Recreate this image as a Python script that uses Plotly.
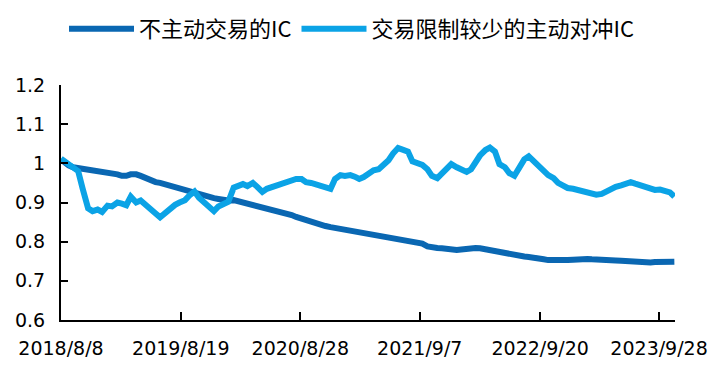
import pandas as pd
import plotly.graph_objects as go

# x: sampling dates (first trading day, then semi-monthly)
dates = ["2018-08-08"] + [d.strftime("%Y-%m-%d") for d in pd.date_range("2018-08-15", "2023-11-15", freq="SMS")]

series_names = ["不主动交易的IC", "交易限制较少的主动对冲IC"]

ic_passive = [
    1.010, 1.005, 0.995, 0.990, 0.988, 0.986, 0.985, 0.985, 0.983, 0.980,
    0.978, 0.975, 0.972, 0.968, 0.968, 0.972, 0.972, 0.968, 0.962, 0.957,
    0.952, 0.950, 0.946, 0.943, 0.940, 0.936, 0.932, 0.928, 0.926, 0.922,
    0.916, 0.912, 0.911, 0.909, 0.906, 0.905, 0.906, 0.903, 0.900, 0.897,
    0.895, 0.893, 0.890, 0.887, 0.884, 0.880, 0.876, 0.872, 0.868, 0.863,
    0.858, 0.855, 0.851, 0.848, 0.844, 0.840, 0.837, 0.835, 0.833, 0.831,
    0.829, 0.827, 0.825, 0.824, 0.821, 0.818, 0.815, 0.813, 0.812, 0.810,
    0.807, 0.805, 0.803, 0.801, 0.799, 0.795, 0.788, 0.785, 0.784, 0.783,
    0.781, 0.779, 0.779, 0.780, 0.782, 0.783, 0.784, 0.783, 0.780, 0.778,
    0.776, 0.773, 0.770, 0.767, 0.764, 0.763, 0.762, 0.761, 0.760, 0.758,
    0.755, 0.753, 0.752, 0.752, 0.752, 0.753, 0.754, 0.755, 0.757, 0.756,
    0.755, 0.755, 0.754, 0.753, 0.753, 0.752, 0.751, 0.750, 0.749, 0.748,
    0.747, 0.746, 0.747, 0.748, 0.748, 0.749, 0.749, 0.749,
]

ic_hedged = [
    1.012, 1.008, 0.996, 0.990, 0.980, 0.935, 0.885, 0.878, 0.882, 0.876,
    0.892, 0.890, 0.900, 0.897, 0.893, 0.915, 0.900, 0.905, 0.893, 0.880,
    0.872, 0.862, 0.874, 0.885, 0.894, 0.900, 0.906, 0.918, 0.928, 0.912,
    0.898, 0.889, 0.878, 0.890, 0.899, 0.902, 0.938, 0.944, 0.947, 0.942,
    0.950, 0.940, 0.927, 0.935, 0.940, 0.945, 0.950, 0.953, 0.957, 0.960,
    0.960, 0.952, 0.950, 0.947, 0.945, 0.940, 0.935, 0.960, 0.970, 0.968,
    0.970, 0.966, 0.960, 0.965, 0.975, 0.982, 0.985, 0.995, 1.008, 1.025,
    1.039, 1.035, 1.030, 1.005, 1.000, 0.996, 0.985, 0.968, 0.962, 0.972,
    0.985, 0.998, 0.990, 0.985, 0.978, 0.985, 1.005, 1.020, 1.034, 1.040,
    1.030, 0.998, 0.990, 0.975, 0.968, 0.990, 1.010, 1.018, 1.005, 0.995,
    0.980, 0.970, 0.962, 0.950, 0.943, 0.937, 0.935, 0.932, 0.928, 0.925,
    0.922, 0.920, 0.922, 0.928, 0.938, 0.940, 0.944, 0.948, 0.952, 0.948,
    0.943, 0.938, 0.935, 0.932, 0.933, 0.930, 0.926, 0.915,
]

tick_dates = ["2018-08-08", "2019-08-19", "2020-08-28", "2021-09-07", "2022-09-20", "2023-09-28"]
tick_labels = ["2018/8/8", "2019/8/19", "2020/8/28", "2021/9/7", "2022/9/20", "2023/9/28"]
y_ticks = [0.6, 0.7, 0.8, 0.9, 1.0, 1.1, 1.2]
y_labels = ["0.6", "0.7", "0.8", "0.9", "1", "1.1", "1.2"]

fig = go.Figure()
fig.add_trace(go.Scatter(x=dates, y=ic_passive, mode="lines", name=series_names[0],
                         line=dict(color="#0A67B2", width=6)))
fig.add_trace(go.Scatter(x=dates, y=ic_hedged, mode="lines", name=series_names[1],
                         line=dict(color="#0BA3E6", width=6)))

# page body adds an 8px offset, so the figure is 8px smaller than the window
fig.update_layout(
    width=709, height=361,
    margin=dict(l=53, r=42, t=77, b=49, autoexpand=False),
    paper_bgcolor="white", plot_bgcolor="white",
    font=dict(family="DejaVu Sans", size=19, color="#000000"),
    showlegend=True,
    legend=dict(orientation="h", x=0.079, xanchor="left", xref="container",
                y=1.0, yanchor="top", yref="container",
                font=dict(family="Noto Sans CJK SC", size=22, color="#000000"),
                itemwidth=65, tracegroupgap=0, bgcolor="rgba(0,0,0,0)"),
    xaxis=dict(type="date", range=["2018-08-08", "2023-11-17"],
               tickmode="array", tickvals=tick_dates, ticktext=tick_labels,
               showgrid=False, zeroline=False, automargin=False,
               showline=True, linecolor="#000000", linewidth=2,
               ticks="inside", ticklen=8, tickwidth=2, tickcolor="#000000",
               ticklabelstandoff=10,
               tickfont=dict(family="DejaVu Sans", size=19)),
    yaxis=dict(range=[0.6, 1.2], tickmode="array", tickvals=y_ticks, ticktext=y_labels,
               showgrid=False, zeroline=False, automargin=False,
               showline=True, linecolor="#000000", linewidth=2,
               ticks="inside", ticklen=7, tickwidth=2, tickcolor="#000000",
               ticklabelstandoff=10,
               tickfont=dict(family="DejaVu Sans", size=19)),
)

fig.write_html("out.html")
